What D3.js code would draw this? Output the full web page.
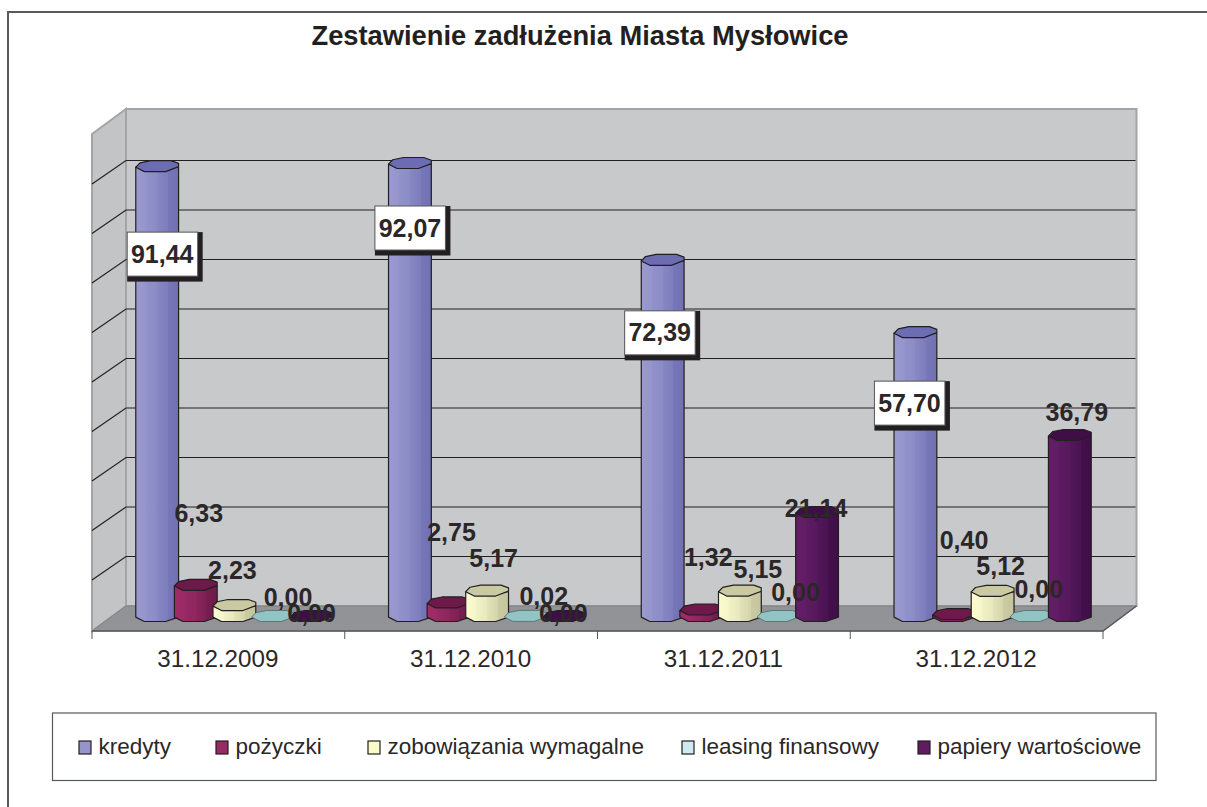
<!DOCTYPE html>
<html><head><meta charset="utf-8">
<script src="https://cdnjs.cloudflare.com/ajax/libs/d3/7.8.5/d3.min.js"></script>
<style>html,body{margin:0;padding:0;background:#fff}svg{display:block}text{font-family:"Liberation Sans",Arial,sans-serif;fill:#2b2728}</style>
</head><body><svg id="c" width="1207" height="807"></svg>
<script>
const chartTitle = "Zestawienie zadłużenia Miasta Mysłowice";
const categories = ["31.12.2009","31.12.2010","31.12.2011","31.12.2012"];
const seriesNames = ["kredyty","pożyczki","zobowiązania wymagalne","leasing finansowy","papiery wartościowe"];
const kredyty = [91.44,92.07,72.39,57.70];
const pozyczki = [6.33,2.75,1.32,0.40];
const zobowiazania = [2.23,5.17,5.15,5.12];
const leasing = [0.00,0.02,0.00,0.00];
const papiery = [0.00,0.00,21.14,36.79];
const seriesValues = [kredyty,pozyczki,zobowiazania,leasing,papiery];
const yTicks = [0,10,20,30,40,50,60,70,80,90];

// layout (not data)
const colors = ["#9595cb","#972b63","#fbfbc9","#cfeaf0","#5f1c63"];
const darkTop = ["#6c6cb2","#6d1a4b","#c9c9a2","#93c4c4","#3f0e47"];
const shade = [["#9a9ad0","#7070b4"],["#a02c68","#6e1c4b"],["#fcfcd0","#c4c49c"],["#cfeaf0","#93c4c4"],["#641e68","#3f0e47"]];
// label offsets from top of each bar: [dx, dy] per series/group
const labelOffset = [
 [[5,88],[0,65],[-3,73],[-6,71]],
 [[3,-71],[3,-69.5],[7,-52.5],[10,-74]],
 [[-2,-35],[6.5,-32],[18,-21],[8,-24]],
 [[15,-19],[18,-19],[17,-24],[7.5,-27]],
 [[0,-3],[-1,-3],[-1,-3],[7,-22]]
];
const floorFront = {l:92,r:1103,y:631}, back = {l:126,r:1136.5,top:109,bottom:606};
const depth = {dx:34,dy:25,gridDy:23.5};
const ink = "#231f20";

const svg = d3.select("#c");
const fmt = v => v.toFixed(2).replace(".",",");

const x0 = d3.scaleBand().domain(categories).range([floorFront.l,floorFront.r]);
const xS = d3.scalePoint().domain(d3.range(seriesNames.length)).range([-77.2,77.2]);
const yWall = d3.scaleLinear().domain([0,100]).range([back.bottom,111]);
const yBar = d3.scaleLinear().domain([0,100]).range([616,616-492]);

// frame (only top and left visible)
svg.append("path").attr("d","M8,807V12H1207").attr("fill","none").attr("stroke","#58595b").attr("stroke-width",2);

svg.append("text").attr("x",580).attr("y",45).attr("text-anchor","middle")
  .style("font-weight","bold").style("font-size","27.3px").style("fill","#231f20").text(chartTitle);

// walls
const wallStroke="#a3a4a6";
svg.append("polygon").attr("points",`${back.l},${back.top} ${back.r},${back.top} ${back.r},${back.bottom} ${back.l},${back.bottom}`).attr("fill","#c8c9cb").attr("stroke",wallStroke).attr("stroke-width",2);
svg.append("polygon").attr("points",`${floorFront.l},${back.top+depth.dy} ${back.l},${back.top} ${back.l},${back.bottom} ${floorFront.l},${floorFront.y}`).attr("fill","#c3c4c6").attr("stroke",wallStroke).attr("stroke-width",2);
svg.append("polygon").attr("points",`${floorFront.l},${floorFront.y} ${back.l},${back.bottom} ${back.r},${back.bottom} ${floorFront.r},${floorFront.y}`).attr("fill","#929396").attr("stroke","#808184").attr("stroke-width",1);

// gridlines
yTicks.slice(1).forEach(t=>{
  const y=yWall(t);
  svg.append("path").attr("d",`M${floorFront.l},${y+depth.gridDy}L${back.l},${y}H${back.r-1}`).attr("fill","none").attr("stroke",ink).attr("stroke-width",1.2);
});
svg.append("path").attr("d",`M${floorFront.l},${floorFront.y}H${floorFront.r}L${back.r},${back.bottom}`).attr("fill","none").attr("stroke","#58595b").attr("stroke-width",1.5);

// category axis
const axis = svg.append("g").attr("transform",`translate(0,${floorFront.y})`);
const tickXs = categories.map(c=>x0(c)).concat([floorFront.r]);
axis.selectAll("line").data(tickXs).join("line").attr("x1",d=>d).attr("x2",d=>d).attr("y1",0).attr("y2",8).attr("stroke","#58595b").attr("stroke-width",1);
axis.selectAll("text").data(categories).join("text").attr("x",d=>x0(d)+x0.bandwidth()/2-.5).attr("y",36)
  .attr("text-anchor","middle").style("font-size","24.2px").text(d=>d);

// gradients
const defs = svg.append("defs");
shade.forEach((s,i)=>{
  const g=defs.append("linearGradient").attr("id","g"+i);
  const steps=[[0,0],[.25,.12],[.25,.2],[.5,.35],[.5,.45],[.75,.7],[.75,.85],[1,1]];
  const m=d3.interpolateRgb(s[0],s[1]);
  steps.forEach(([o,t])=>g.append("stop").attr("offset",o).attr("stop-color",m(t)));
});

// bars
const rx=21.4, ry=5.5;
const topPts=[[-1,.2],[-.8,-.6],[-.3,-1],[.65,-1],[1,-.5],[1,.1],[.4,1],[-.6,1]];
const botPts=[[1,.2],[.4,1],[-.6,1],[-1,.2]];
const bars=[];
seriesValues.forEach((vals,s)=>vals.forEach((v,g)=>bars.push({s,g,v})));
const cx=d=>x0(categories[d.g])+x0.bandwidth()/2+16+xS(d.s);
const line=d3.line();
const gBars=svg.append("g");
gBars.selectAll("g").data(bars.slice().sort((a,b)=>a.g-b.g||a.s-b.s)).join("g").each(function(d){
  const c=cx(d), yt=yBar(d.v), yb=yBar(0), sel=d3.select(this);
  if(yb-yt>1){
    const pts=[[c-rx,yt+.2*ry],[c-rx,yb+.2*ry]].concat(botPts.slice().reverse().slice(1).map(p=>[c+p[0]*rx,yb+p[1]*ry])).concat([[c+rx,yt+.2*ry]]);
    sel.append("path").attr("d",line(pts)+"Z").attr("fill",`url(#g${d.s})`).attr("stroke",ink).attr("stroke-width",1.2).attr("stroke-linejoin","round");
  }
  sel.append("path").attr("d",line(topPts.map(p=>[c+p[0]*rx,yt+p[1]*ry]))+"Z").attr("fill",darkTop[d.s]).attr("stroke",d.s===3?"#4c6a6c":ink).attr("stroke-width",d.s===3?.8:1.2).attr("stroke-linejoin","round");
});

// labels
const labelFont=25;
bars.forEach(d=>{
  const [dx,dy]=labelOffset[d.s][d.g], lx=cx(d)+dx, ly=yBar(d.v)+dy;
  if(d.s===0){
    svg.append("rect").attr("x",lx-35).attr("y",ly-22).attr("width",75.5).attr("height",49.5).attr("fill","#231f20");
    svg.append("rect").attr("x",lx-35).attr("y",ly-22).attr("width",70.5).attr("height",44).attr("fill","#fff").attr("stroke","#58595b").attr("stroke-width",1);
  }
});
bars.forEach(d=>{
  const [dx,dy]=labelOffset[d.s][d.g], lx=cx(d)+dx, ly=yBar(d.v)+dy;
  svg.append("text").attr("x",lx).attr("y",ly+8.5).attr("text-anchor","middle").style("font-weight","bold").style("font-size",labelFont+"px").text(fmt(d.v));
});

// legend
svg.append("rect").attr("x",52.5).attr("y",713).attr("width",1103.5).attr("height",67.5).attr("fill","#fff").attr("stroke","#58595b").attr("stroke-width",1.2);
const legendX=[79,216,368,682,918];
const lg=svg.append("g").selectAll("g").data(seriesNames).join("g").attr("transform",(d,i)=>`translate(${legendX[i]},746)`);
lg.append("rect").attr("x",0).attr("y",-5).attr("width",12).attr("height",13).attr("fill",(d,i)=>colors[i]).attr("stroke",ink).attr("stroke-width",1.2);
lg.append("text").attr("x",19.5).attr("y",8).style("font-size","22.5px").text(d=>d);
</script></body></html>
